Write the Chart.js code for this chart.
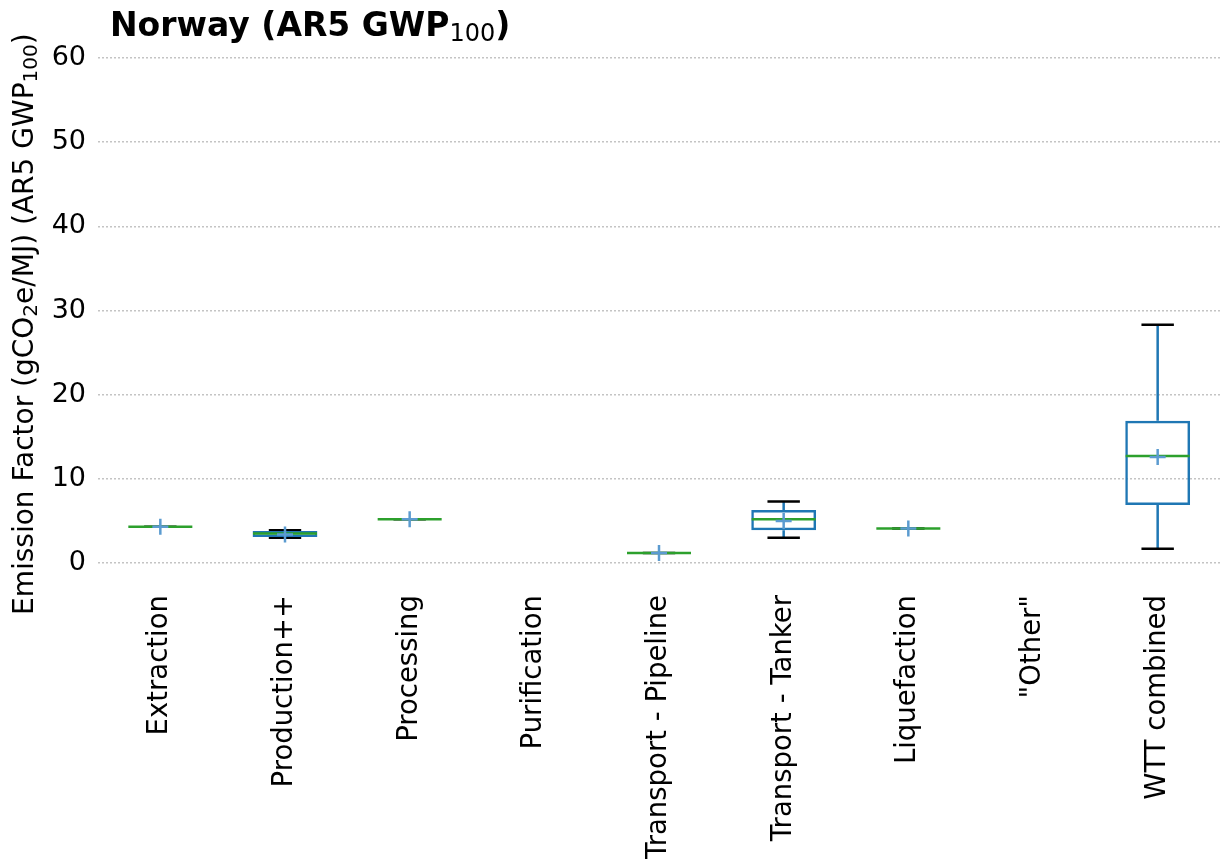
<!DOCTYPE html>
<html>
<head>
<meta charset="utf-8">
<script src="https://cdn.jsdelivr.net/npm/chart.js@4.4.1/dist/chart.umd.min.js"></script>
<style>
  html, body { margin: 0; padding: 0; background: #ffffff; }
  #wrap { width: 1225px; height: 864px; }
</style>
</head>
<body>
<div id="wrap"><canvas id="chart" width="1225" height="864"></canvas></div>
<script>
const categories = ['Extraction', 'Production++', 'Processing', 'Purification', 'Transport - Pipeline',
  'Transport - Tanker', 'Liquefaction', '"Other"', 'WTT combined'];
const whiskerLow  = [4.3, 3.0, 5.2, null, 1.2, 3.0, 4.1, null, 1.7];
const q1          = [4.3, 3.1, 5.2, null, 1.2, 3.9, 4.1, null, 6.9];
const median      = [4.3, 3.5, 5.2, null, 1.2, 5.2, 4.1, null, 12.7];
const q3          = [4.3, 3.8, 5.2, null, 1.2, 6.3, 4.1, null, 16.9];
const whiskerHigh = [4.3, 3.9, 5.2, null, 1.2, 7.3, 4.1, null, 28.3];
const mean        = [4.3, 3.4, 5.2, null, 1.2, 5.0, 4.1, null, 12.6];
const yTicks = [0, 10, 20, 30, 40, 50, 60];

// text pieces: [text, isSubscript]
const titleParts = [['Norway (AR5 GWP', false], ['100', true], [')', false]];
const yTitleParts = [['Emission Factor (gCO', false], ['2', true], ['e/MJ) (AR5 GWP', false], ['100', true], [')', false]];

const colors = {
  box: '#1f77b4',
  median: '#2ca02c',
  mean: '#5b9bd0',
  cap: '#000000',
  grid: '#c4c4c4',
};
const font = 'DejaVu Sans';

const drawParts = (ctx, parts, mainFont, subFont, subDrop) => {
  let x = 0;
  parts.forEach(([text, sub]) => {
    ctx.font = sub ? subFont : mainFont;
    ctx.fillText(text, x, sub ? subDrop : 0);
    x += ctx.measureText(text).width;
  });
};

// whiskers, caps, title and y label
const boxExtras = {
  id: 'boxExtras',
  beforeDatasetsDraw(chart) {
    const { ctx, scales: { x, y } } = chart;
    const bars = chart.getDatasetMeta(0).data;
    ctx.save();
    ctx.lineWidth = 2.5;
    for (let i = 0; i < categories.length; i++) {
      if (median[i] === null) continue;
      const cx = x.getPixelForValue(i);
      const capHalf = bars[i].width / 4;
      const yLo = y.getPixelForValue(whiskerLow[i]);
      const yHi = y.getPixelForValue(whiskerHigh[i]);
      const yQ1 = y.getPixelForValue(q1[i]);
      const yQ3 = y.getPixelForValue(q3[i]);
      ctx.strokeStyle = colors.box;
      ctx.beginPath();
      ctx.moveTo(cx, yQ3); ctx.lineTo(cx, yHi);
      ctx.moveTo(cx, yQ1); ctx.lineTo(cx, yLo);
      ctx.stroke();
      ctx.strokeStyle = colors.cap;
      ctx.beginPath();
      ctx.moveTo(cx - capHalf, yHi); ctx.lineTo(cx + capHalf, yHi);
      ctx.moveTo(cx - capHalf, yLo); ctx.lineTo(cx + capHalf, yLo);
      ctx.stroke();
    }
    ctx.restore();
  },
  afterDraw(chart) {
    const { ctx } = chart;
    ctx.save();
    ctx.fillStyle = '#000';
    ctx.textBaseline = 'alphabetic';
    ctx.textAlign = 'left';
    ctx.translate(110, 36);
    drawParts(ctx, titleParts, `bold 33px "${font}"`, `24px "${font}"`, 5);
    ctx.restore();

    ctx.save();
    ctx.fillStyle = '#000';
    ctx.textBaseline = 'alphabetic';
    ctx.textAlign = 'left';
    ctx.translate(33, 615);
    ctx.rotate(-Math.PI / 2);
    drawParts(ctx, yTitleParts, `28px "${font}"`, `20px "${font}"`, 4);
    ctx.restore();
  },
};

new Chart(document.getElementById('chart'), {
  type: 'bar',
  data: {
    labels: categories,
    datasets: [{
      label: 'box',
      data: q1.map((v, i) => (v === null ? null : [v, q3[i]])),
      backgroundColor: 'rgba(0,0,0,0)',
      borderColor: colors.box,
      borderWidth: 2.5,
      borderSkipped: false,
      barPercentage: 0.52,
      categoryPercentage: 1,
      order: 3,
    }, {
      type: 'line',
      label: 'median',
      data: median,
      showLine: false,
      pointStyle: 'line',
      pointRadius: 32,
      pointBorderColor: colors.median,
      pointBorderWidth: 2.5,
      order: 2,
    }, {
      type: 'line',
      label: 'mean',
      data: mean,
      showLine: false,
      pointStyle: 'cross',
      pointRadius: 8,
      pointBorderColor: colors.mean,
      pointBorderWidth: 2.5,
      order: 1,
    }],
  },
  options: {
    responsive: false,
    animation: false,
    devicePixelRatio: 1,
    layout: { autoPadding: false, padding: { top: 58, right: 5, left: 0, bottom: 0 } },
    plugins: {
      legend: { display: false },
      tooltip: { enabled: false },
      title: { display: false },
    },
    scales: {
      x: {
        offset: true,
        afterFit: (axis) => {
          axis.height = 301;
          axis.paddingLeft = 0;
          axis.paddingRight = 0;
        },
        grid: { display: false, drawTicks: false },
        border: { display: false },
        ticks: {
          color: '#000',
          font: { family: font, size: 27.5 },
          minRotation: 90,
          maxRotation: 90,
          padding: 32,
          autoSkip: false,
        },
      },
      y: {
        min: 0,
        max: 60,
        afterBuildTicks: (axis) => { axis.ticks = yTicks.map(v => ({ value: v })); },
        afterFit: (axis) => { axis.width = 98; },
        grid: {
          color: colors.grid,
          lineWidth: 1.5,
          drawTicks: false,
        },
        border: { display: false, dash: [2, 2] },
        ticks: {
          color: '#000',
          font: { family: font, size: 27 },
          padding: 12,
        },
      },
    },
  },
  plugins: [boxExtras],
});
</script>
</body>
</html>
